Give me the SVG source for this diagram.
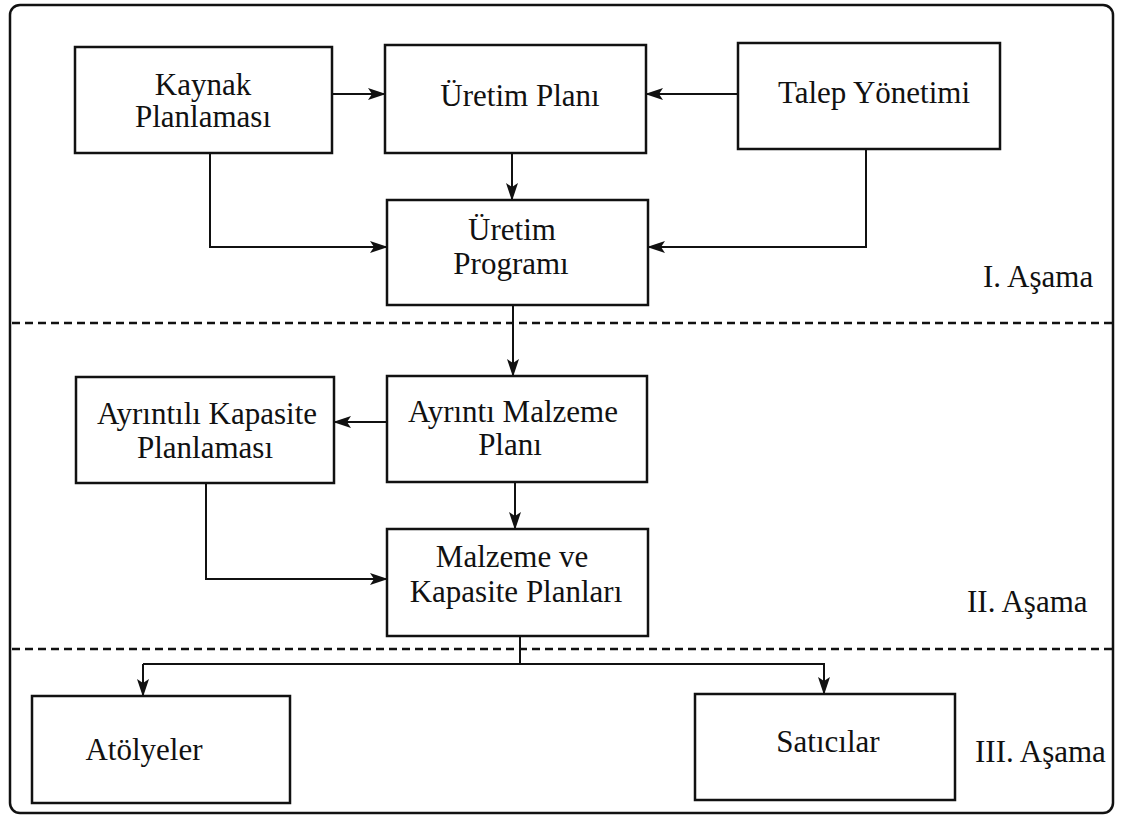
<svg xmlns="http://www.w3.org/2000/svg" width="1121" height="816" viewBox="0 0 1121 816">
<style>
.box{fill:#fff;stroke:#111;stroke-width:2.5}
.t{font-family:"Liberation Serif","Times New Roman",serif;font-size:31px;fill:#111;text-anchor:middle}
.lbl{font-family:"Liberation Serif","Times New Roman",serif;font-size:31px;fill:#111}
.c{fill:none;stroke:#111;stroke-width:2}
.d{fill:none;stroke:#111;stroke-width:2.5;stroke-dasharray:8 5}
</style>
<defs>
<marker id="ah" markerWidth="18" markerHeight="12" refX="17" refY="6" orient="auto" markerUnits="userSpaceOnUse">
<path d="M0,0 L18,6 L0,12 L4,6 z" fill="#111"/>
</marker>
</defs>
<rect width="1121" height="816" fill="#fff"/>
<rect x="10" y="5" width="1103" height="808" rx="10" ry="10" fill="none" stroke="#111" stroke-width="2.5"/>
<g id="separators">
<line class="d" x1="12" y1="323" x2="1112" y2="323"/>
<line class="d" x1="12" y1="649" x2="1112" y2="649"/>
</g>
<g id="connectors">
<line class="c" x1="332" y1="94" x2="385" y2="94" marker-end="url(#ah)"/>
<line class="c" x1="738" y1="94" x2="646" y2="94" marker-end="url(#ah)"/>
<line class="c" x1="512" y1="153" x2="512" y2="200" marker-end="url(#ah)"/>
<polyline class="c" points="210,153 210,247 387,247" marker-end="url(#ah)"/>
<polyline class="c" points="866,149 866,247 648,247" marker-end="url(#ah)"/>
<line class="c" x1="513" y1="305" x2="513" y2="376" marker-end="url(#ah)"/>
<line class="c" x1="387" y1="422" x2="334" y2="422" marker-end="url(#ah)"/>
<line class="c" x1="515" y1="482" x2="515" y2="529" marker-end="url(#ah)"/>
<polyline class="c" points="206,483 206,579 387,579" marker-end="url(#ah)"/>
<line class="c" x1="520" y1="636" x2="520" y2="664"/>
<polyline class="c" points="143,664 824,664 824,694" marker-end="url(#ah)"/>
<line class="c" x1="143" y1="664" x2="143" y2="696" marker-end="url(#ah)"/>
</g>
<g id="kaynak">
<rect class="box" x="75" y="47" width="257" height="106"/>
<text class="t" x="203" y="95">Kaynak</text>
<text class="t" x="203" y="127">Planlaması</text>
</g>
<g id="uretim-plani">
<rect class="box" x="385" y="45" width="261" height="108"/>
<text class="t" x="520" y="106">Üretim Planı</text>
</g>
<g id="talep">
<rect class="box" x="738" y="43" width="262" height="106"/>
<text class="t" x="874" y="103">Talep Yönetimi</text>
</g>
<g id="uretim-programi">
<rect class="box" x="387" y="200" width="261" height="105"/>
<text class="t" x="512" y="240">Üretim</text>
<text class="t" x="511" y="274">Programı</text>
</g>
<g id="phase1"><text class="lbl" x="983" y="287">I. Aşama</text></g>
<g id="ayrintili-kapasite">
<rect class="box" x="76" y="377" width="258" height="106"/>
<text class="t" x="207" y="424">Ayrıntılı Kapasite</text>
<text class="t" x="205" y="458">Planlaması</text>
</g>
<g id="ayrinti-malzeme">
<rect class="box" x="387" y="376" width="260" height="106"/>
<text class="t" x="513" y="422">Ayrıntı Malzeme</text>
<text class="t" x="510" y="455">Planı</text>
</g>
<g id="malzeme-kapasite">
<rect class="box" x="387" y="529" width="261" height="107"/>
<text class="t" x="512" y="567">Malzeme ve</text>
<text class="t" x="516" y="602">Kapasite Planları</text>
</g>
<g id="phase2"><text class="lbl" x="967" y="612">II. Aşama</text></g>
<g id="atolyeler">
<rect class="box" x="32" y="696" width="258" height="107"/>
<text class="t" x="144" y="760">Atölyeler</text>
</g>
<g id="saticilar">
<rect class="box" x="695" y="694" width="260" height="106"/>
<text class="t" x="828" y="752">Satıcılar</text>
</g>
<g id="phase3"><text class="lbl" x="975" y="762">III. Aşama</text></g>
</svg>
